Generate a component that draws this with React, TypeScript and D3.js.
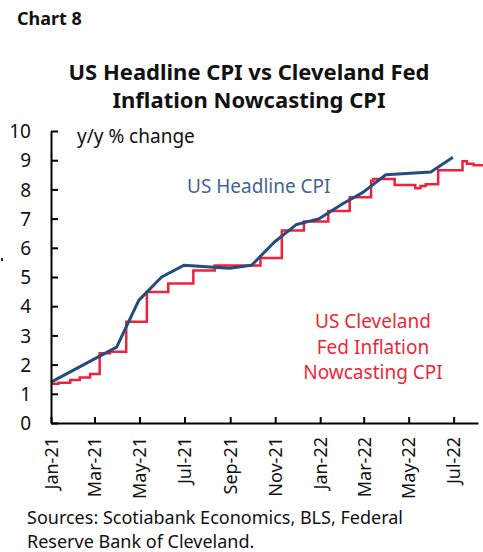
import React, { useRef, useEffect } from 'react';
import * as d3 from 'd3';

const width = 483;
const height = 552;
const font = '"Noto Sans", "Open Sans", sans-serif';

// US headline CPI, y/y % (as plotted)
const cpiDates = [
  '2021-01-01', '2021-03-31', '2021-04-30', '2021-05-31', '2021-06-30',
  '2021-08-31', '2021-09-30', '2021-10-31', '2021-11-30', '2021-12-31', '2022-01-31',
  '2022-02-28', '2022-03-31', '2022-05-31', '2022-06-30',
];
const cpiValues = [1.4, 2.6, 4.2, 5.0, 5.4, 5.3, 5.4, 6.2, 6.8, 7.0, 7.5, 7.9, 8.5, 8.6, 9.1];

// Cleveland Fed nowcast, daily steps
const nowDates = [
  '2021-01-01', '2021-01-11', '2021-01-27', '2021-02-09', '2021-02-23', '2021-03-08',
  '2021-03-22', '2021-04-13', '2021-05-11', '2021-06-09', '2021-07-13', '2021-08-11',
  '2021-10-12', '2021-11-10', '2021-12-10', '2022-01-12', '2022-02-10', '2022-03-11',
  '2022-03-14', '2022-04-12', '2022-05-10', '2022-05-17', '2022-05-24', '2022-06-10',
  '2022-07-13', '2022-07-19', '2022-07-28', '2022-08-10',
];
const nowValues = [
  1.34, 1.38, 1.47, 1.56, 1.68, 2.39, 2.44, 3.47, 4.49, 4.78, 5.22, 5.39,
  5.65, 6.59, 6.9, 7.26, 7.73, 8.3, 8.36, 8.15, 8.04, 8.12, 8.18, 8.66,
  8.96, 8.88, 8.83, 8.83,
];

const yTicks = [0, 1, 2, 3, 4, 5, 6, 7, 8, 9, 10];
const xTickDates = [
  '2021-01-01', '2021-03-01', '2021-05-01', '2021-07-01', '2021-09-01',
  '2021-11-01', '2022-01-01', '2022-03-01', '2022-05-01', '2022-07-01',
];
const xDomain = ['2021-01-01', '2022-08-03'];

const parse = d3.timeParse('%Y-%m-%d');

function App() {
  const xAxisRef = useRef<SVGGElement>(null);
  const yAxisRef = useRef<SVGGElement>(null);

  const x = d3.scaleTime()
    .domain(xDomain.map((d) => parse(d) as Date))
    .range([51, 478]);
  const y = d3.scaleLinear().domain([0, 10]).range([423, 131]);

  const cpi = cpiDates.map((d, i) => ({ date: parse(d) as Date, value: cpiValues[i] }));
  const now = nowDates.map((d, i) => ({ date: parse(d) as Date, value: nowValues[i] }));

  const cpiLine = d3.line<{ date: Date; value: number }>()
    .x((d) => x(d.date))
    .y((d) => y(d.value));
  const nowLine = d3.line<{ date: Date; value: number }>()
    .x((d) => x(d.date))
    .y((d) => y(d.value))
    .curve(d3.curveStepAfter);

  useEffect(() => {
    const yAxis = d3.axisLeft(y)
      .tickValues(yTicks)
      .tickSizeInner(-7)
      .tickSizeOuter(0)
      .tickPadding(20)
      .tickFormat((d) => String(d));
    const yg = d3.select(yAxisRef.current).call(yAxis as any);
    yg.attr('font-family', font).attr('font-size', 19);
    yg.selectAll('path, line').attr('stroke', '#000').attr('stroke-width', 2);
    yg.selectAll('text').attr('fill', '#111').attr('dy', '0.35em');

    const xAxis = d3.axisBottom(x)
      .tickValues(xTickDates.map((d) => parse(d) as Date))
      .tickSizeInner(-6)
      .tickSizeOuter(0)
      .tickFormat((d) => d3.timeFormat('%b-%y')(d as Date));
    const xg = d3.select(xAxisRef.current).call(xAxis as any);
    xg.attr('font-family', font).attr('font-size', 18);
    xg.selectAll('path, line').attr('stroke', '#000').attr('stroke-width', 2);
    xg.selectAll('text')
      .attr('fill', '#111')
      .attr('transform', 'rotate(-90)')
      .attr('text-anchor', 'end')
      .attr('x', -14)
      .attr('y', 0)
      .attr('dy', '0.35em');
  }, []);

  return (
    <svg
      width={width}
      height={height}
      style={{ position: 'absolute', left: 0, top: 0, background: '#fff' }}
      fontFamily={font}
    >
      <text x={17} y={25} fontSize={18} fontWeight="bold" fill="#111">Chart 8</text>
      <text x={249} y={80} fontSize={22} fontWeight="bold" fill="#111" textAnchor="middle">
        US Headline CPI vs Cleveland Fed
      </text>
      <text x={249} y={108} fontSize={22} fontWeight="bold" fill="#111" textAnchor="middle">
        Inflation Nowcasting CPI
      </text>

      <text x={77} y={143} fontSize={19} fill="#111">y/y % change</text>

      <path d={nowLine(now) || ''} fill="none" stroke="#f0213a" strokeWidth={2.5} />
      <path d={cpiLine(cpi) || ''} fill="none" stroke="#234d7c" strokeWidth={3} strokeLinejoin="round" />

      <g ref={yAxisRef} transform="translate(51,0)" />
      <g ref={xAxisRef} transform="translate(0,423)" />

      <text x={187} y={193} fontSize={19} fill="#3f6494">US Headline CPI</text>
      <g fontSize={19} fill="#ee2737" textAnchor="middle">
        <text x={373} y={328}>US Cleveland</text>
        <text x={373} y={354}>Fed Inflation</text>
        <text x={373} y={379}>Nowcasting CPI</text>
      </g>

      <text x={27} y={524} fontSize={18} fill="#111">Sources: Scotiabank Economics, BLS, Federal</text>
      <text x={27} y={548} fontSize={18} fill="#111">Reserve Bank of Cleveland.</text>

      <rect x={1} y={258} width={2} height={3} fill="#222" />
    </svg>
  );
}

export default App;
